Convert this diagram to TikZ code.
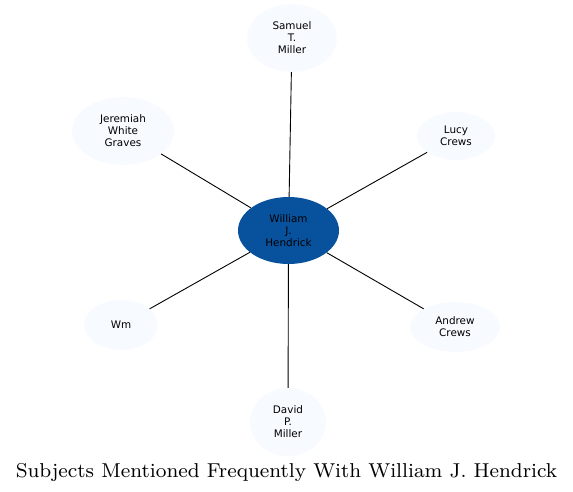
\documentclass[tikz,border=0pt]{standalone}
\usepackage{fontspec}
\usepackage{tikz}
\usetikzlibrary{positioning, shapes.geometric}
\newfontfamily\labelfont{DejaVu Sans}
\newfontfamily\titlefont{lmroman8-regular.otf}
\definecolor{hubblue}{HTML}{08519C}
\definecolor{leafblue}{HTML}{F7FBFF}

\begin{document}
\begin{tikzpicture}[x=1pt, y=-1pt]
					\tikzset{
						hub/.style={ellipse, fill=hubblue, draw=none, inner sep=0pt, align=center, font=\labelfont\fontsize{10.4}{12}\selectfont, minimum width=101pt, minimum height=67pt},
						leaf/.style={ellipse, fill=leafblue, draw=none, inner sep=0pt, align=center, font=\labelfont\fontsize{10.4}{12}\selectfont},
						spoke/.style={draw=black, line width=0.9pt}
					}
					\useasboundingbox (0,0) rectangle (573,492);
					\node[hub] (hendrick) at (288.5,230.5) {William\\J.\\Hendrick};
					\foreach \n/\x/\y/\w/\h/\t in {samuel/292/38/90/68/{Samuel\\T.\\Miller},
						jeremiah/123/131/102/68/{Jeremiah\\White\\Graves},
						lucy/456/136/78/48/{Lucy\\Crews},
						wm/121/325/74/50/{Wm},
						andrew/455/327/90/50/{Andrew\\Crews},
						david/288/422/76/68/{David\\P.\\Miller}} {
						\node[leaf, minimum width=\w pt, minimum height=\h pt] (\n) at (\x,\y) {\t};
						\draw[spoke] (hendrick) -- (\n);
					}
					\node[anchor=base, font=\titlefont\fontsize{20.1}{24}\selectfont] (title) at (286.5,477) {Subjects Mentioned Frequently With William J. Hendrick};
				\end{tikzpicture}
\end{document}
